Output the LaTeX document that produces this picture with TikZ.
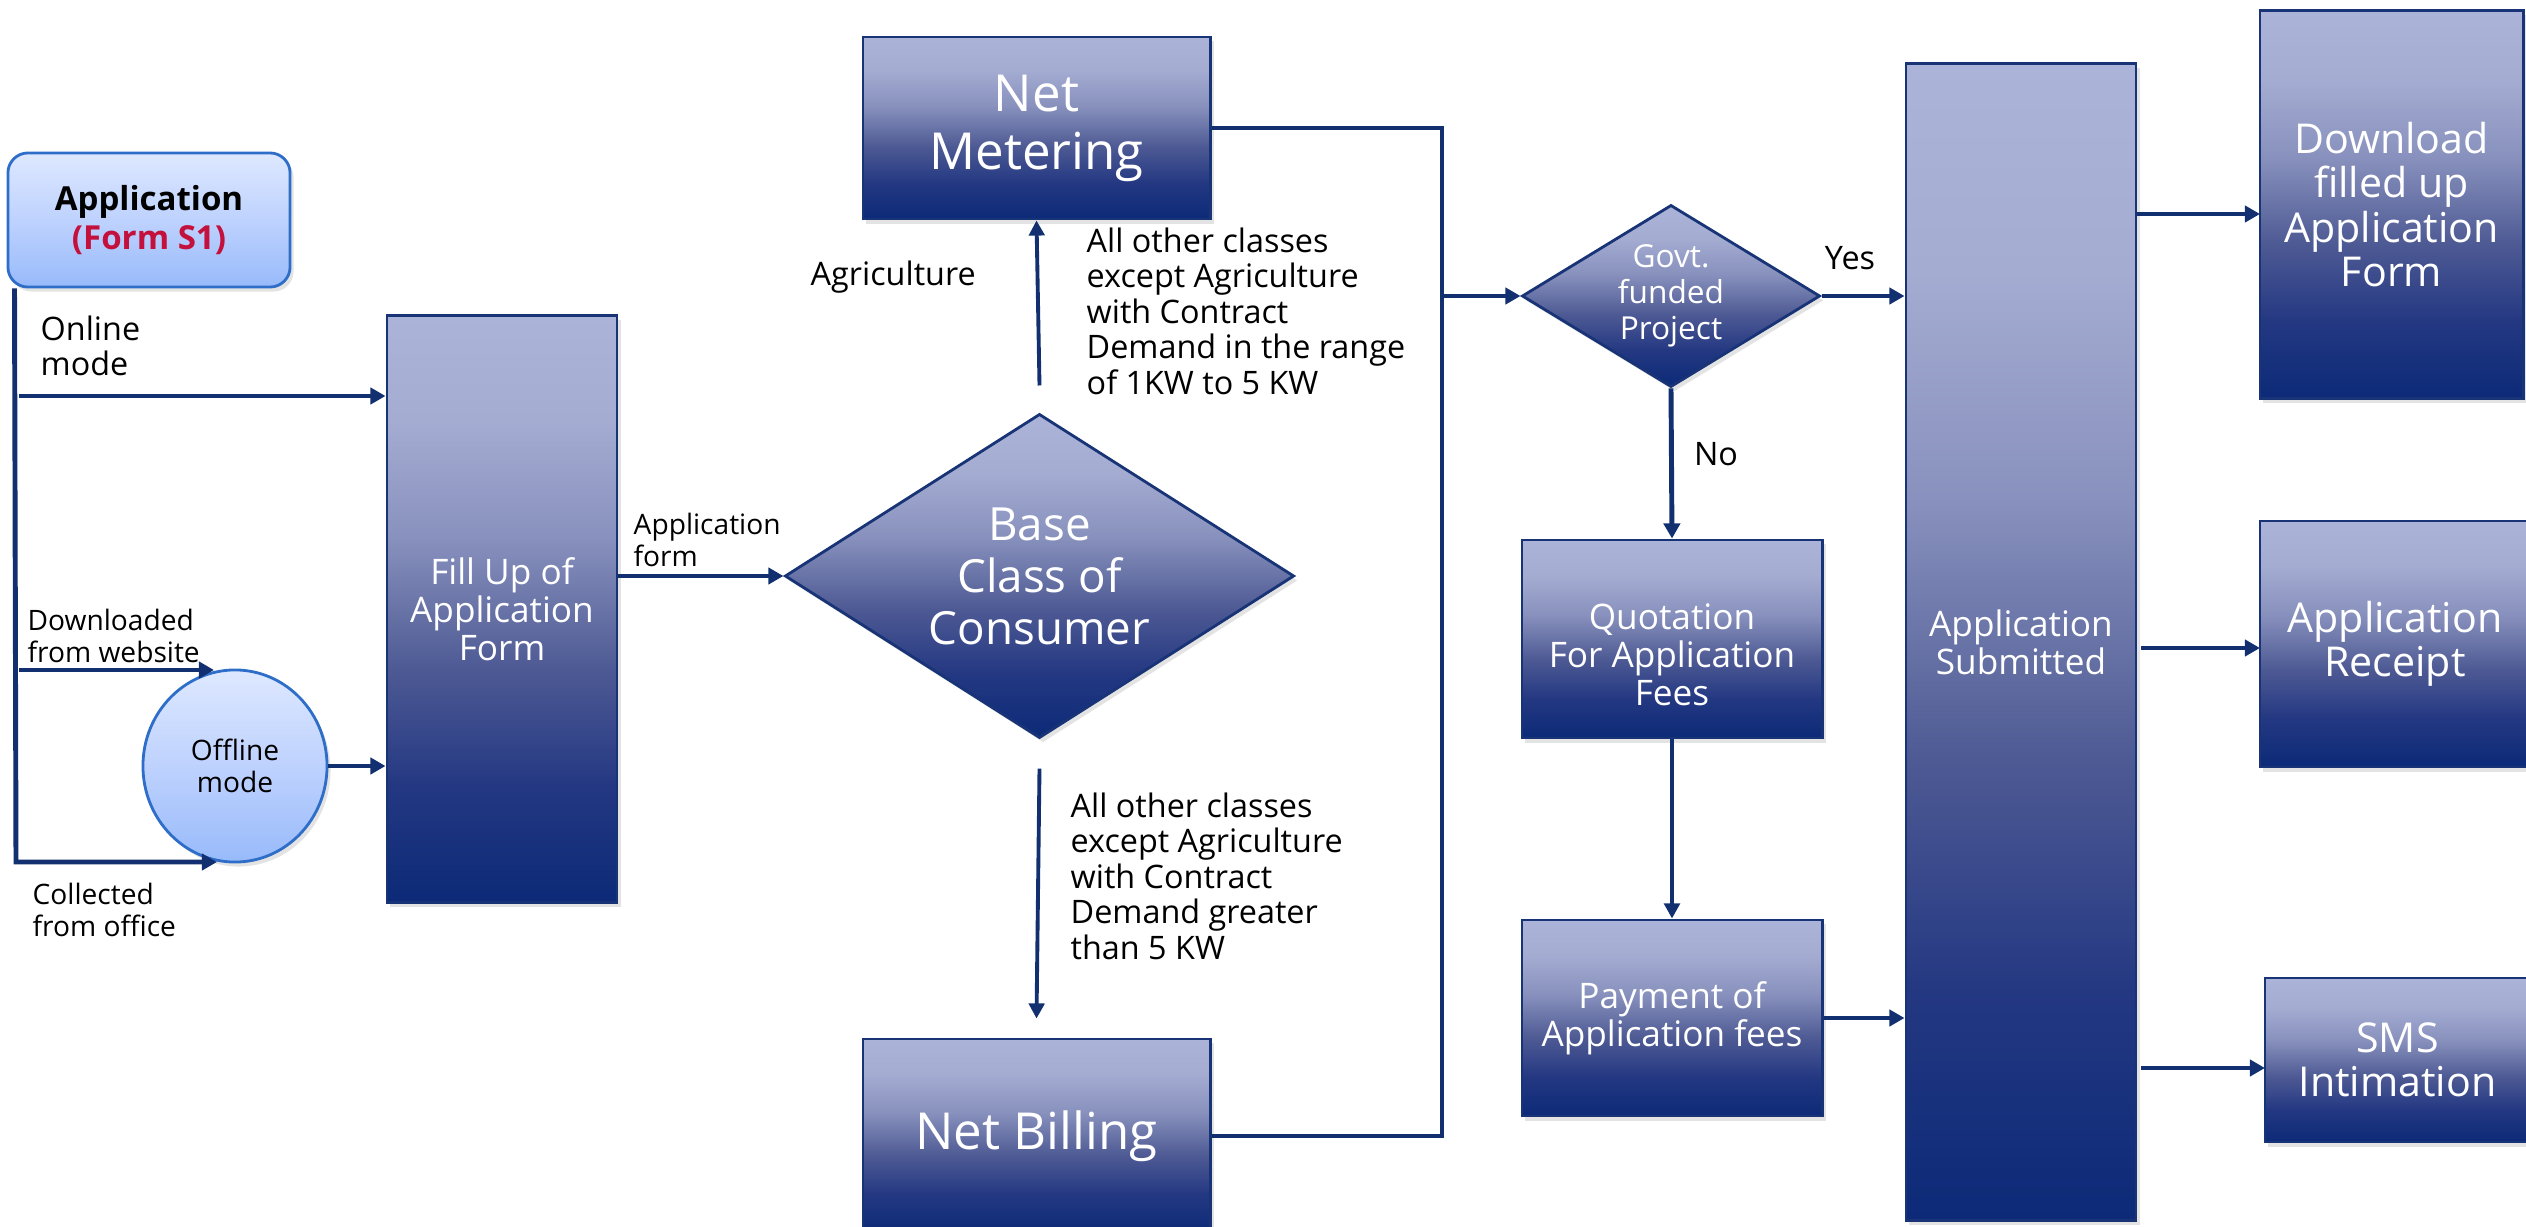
\documentclass[tikz,border=0pt]{standalone}
\usepackage{fontspec}
\setmainfont{Open Sans}
\usetikzlibrary{arrows.meta,shapes.geometric,shadows}
\definecolor{arrowc}{RGB}{18,48,112}
\definecolor{boxline}{RGB}{24,52,118}
\definecolor{appline}{RGB}{46,110,200}
\definecolor{formred}{RGB}{196,16,60}
\definecolor{nvA}{RGB}{12,42,120}
\definecolor{nvB}{RGB}{36,56,130}
\definecolor{nvC}{RGB}{78,90,148}
\definecolor{nvD}{RGB}{136,145,189}
\definecolor{nvE}{RGB}{164,172,210}
\definecolor{nvF}{RGB}{171,179,216}
\definecolor{lbA}{RGB}{152,186,250}
\definecolor{lbB}{RGB}{190,210,254}
\definecolor{lbC}{RGB}{222,232,255}
\pgfdeclareverticalshading{navyshade}{100bp}{color(0bp)=(nvA); color(25bp)=(nvA); color(35bp)=(nvB); color(45bp)=(nvC); color(56bp)=(nvD); color(66bp)=(nvE); color(75bp)=(nvF); color(100bp)=(nvF)}
\pgfdeclareverticalshading{lightshade}{100bp}{color(0bp)=(lbA); color(25bp)=(lbA); color(50bp)=(lbB); color(75bp)=(lbC); color(100bp)=(lbC)}
\begin{document}
\begin{tikzpicture}[x=0.01cm,y=-0.01cm,
  nbox/.style={rectangle, draw=boxline, line width=0.8pt, shade, shading=navyshade,
    text=white, align=center, inner sep=0pt,
    drop shadow={shadow xshift=0.035cm, shadow yshift=-0.045cm, opacity=0.22}},
  ndiam/.style={diamond, draw=boxline, line width=0.8pt, shade, shading=navyshade,
    text=white, align=center, inner sep=0pt,
    drop shadow={shadow xshift=0.035cm, shadow yshift=-0.045cm, opacity=0.22}},
  lbox/.style={draw=appline, line width=0.8pt, shade, shading=lightshade,
    text=black, align=center, inner sep=0pt,
    drop shadow={shadow xshift=0.035cm, shadow yshift=-0.045cm, opacity=0.22}},
  ftxt/.style={font=\fontsize{10}{10.8}\selectfont},
  fbig/.style={font=\fontsize{14.5}{16.5}\selectfont},
  fbase/.style={font=\fontsize{13}{14.8}\selectfont},
  fright/.style={font=\fontsize{11.7}{12.6}\selectfont},
  fgovt/.style={font=\fontsize{9}{10.3}\selectfont},
  flbl/.style={font=\fontsize{9.2}{10.1}\selectfont},
  fsmall/.style={font=\fontsize{8}{9.2}\selectfont},
  lbl/.style={text=black, align=left, inner sep=0pt},
  arr/.style={draw=arrowc, line width=1.4pt, -{Triangle[length=4.3pt,width=4.6pt]}},
  arrthin/.style={draw=arrowc, line width=1.1pt, -{Triangle[length=4.3pt,width=4.4pt]}},
  conn/.style={draw=arrowc, line width=1.4pt},
]
\useasboundingbox (0,0) rectangle (2526,1227);

% ---------- nodes ----------
\node[lbox, rectangle, rounded corners=0.2cm, minimum width=2.82cm, minimum height=1.34cm,
      font=\fontsize{9.4}{10.9}\selectfont\bfseries] (app) at (149,220)
      {Application\\\textcolor{formred}{(Form S1)}};
\node[nbox, ftxt, minimum width=2.30cm, minimum height=5.86cm] (fill) at (502,609)
      {Fill Up of\\Application\\Form};
\node[lbox, ellipse, fsmall, minimum width=1.84cm, minimum height=1.92cm] (off) at (235,766)
      {Offline\\mode};
\node[nbox, fbig, minimum width=3.47cm, minimum height=1.82cm] (netm) at (1036.5,128)
      {Net\\Metering};
\node[ndiam, fbase, aspect=1.57, minimum width=5.09cm, minimum height=3.24cm] (base) at (1039.5,576)
      {Base\\Class of\\Consumer};
\node[nbox, fbig, minimum width=3.47cm, minimum height=1.94cm] (nb) at (1036.5,1136)
      {Net Billing};
\node[ndiam, fgovt, aspect=1.64, minimum width=2.98cm, minimum height=1.82cm] (govt) at (1671,296)
      {Govt.\\funded\\Project};
\node[nbox, minimum width=3.00cm, minimum height=1.98cm] (quot) at (1672,639) {};
\node[ftxt, text=white, align=center, inner sep=0pt] (quott) at (1672,655)
      {Quotation\\For Application\\Fees};
\node[nbox, ftxt, minimum width=3.00cm, minimum height=1.96cm] (pay) at (1672,1018)
      {Payment of\\Application fees};
\node[nbox, ftxt, minimum width=2.30cm, minimum height=11.56cm] (sub) at (2021,642)
      {Application\\Submitted};
\node[nbox, fright, minimum width=2.63cm, minimum height=3.87cm] (dl) at (2391.5,204.5)
      {Download\\filled up\\Application\\Form};
\node[nbox, fright, minimum width=2.70cm, minimum height=2.46cm] (rec) at (2395,644)
      {Application\\Receipt};
\node[nbox, fright, minimum width=2.65cm, minimum height=1.64cm] (sms) at (2397.5,1060)
      {SMS\\Intimation};

% ---------- labels ----------
\node[lbl, flbl, anchor=west] (lonl) at (40,346) {Online\\mode};
\node[lbl, fsmall, anchor=west] (ldwl) at (27,636) {Downloaded\\from website};
\node[lbl, fsmall, anchor=west] (lcol) at (32,910) {Collected\\from office};
\node[lbl, fsmall, anchor=west] (lapf) at (633,540) {Application\\form};
\node[lbl, flbl, anchor=west] (lagr) at (810,277) {Agriculture};
\node[lbl, flbl, anchor=west] (lup) at (1086,311)
      {All other classes\\except Agriculture\\with Contract\\Demand in the range\\of 1KW to 5 KW};
\node[lbl, flbl, anchor=west] (ldn) at (1070,876)
      {All other classes\\except Agriculture\\with Contract\\Demand greater\\than 5 KW};
\node[lbl, flbl] (lyes) at (1850,258) {Yes};
\node[lbl, flbl] (lno) at (1716,454) {No};

% ---------- connectors ----------
\coordinate (tr) at ([xshift=0.08cm]app.south west);
\coordinate (trb) at (16,862);
\coordinate (colend) at (217,862);
\draw[arr] (tr) -- (trb) -- (colend);
\coordinate (onl) at (19,396);
\draw[arr] (onl) -- (onl -| fill.west);
\coordinate (dwl) at (19,670);
\coordinate (dwlend) at (214,670);
\draw[arr] (dwl) -- (dwlend);
\draw[arr] (off.east) -- (off.east -| fill.west);
\draw[arr] (fill.east |- base.west) -- (base.west);
\draw[arrthin] ([yshift=0.27cm]base.north) -- (netm.south);
\draw[arrthin] ([yshift=-0.29cm]base.south) -- ([yshift=0.19cm]nb.north);
\coordinate (jt) at (1442,128);
\coordinate (jb) at (1442,1136);
\draw[conn] (netm.east) -- (jt) -- (jb) -- (nb.east);
\draw[arr] (jt |- govt.west) -- (govt.west);
\draw[arr] (govt.east) -- (govt.east -| sub.west);
\draw[arr] (govt.south) -- (quot.north);
\draw[arrthin] (quot.south) -- (pay.north);
\draw[arr] (pay.east) -- (pay.east -| sub.west);
\coordinate (dlin) at (2260,214);
\draw[arr] (sub.east |- dlin) -- (dlin);
\coordinate (recin) at (2260,648);
\coordinate (recout) at (2141,648);
\draw[arr] (recout) -- (recin);
\coordinate (smsin) at (2265,1068);
\coordinate (smsout) at (2141,1068);
\draw[arr] (smsout) -- (smsin);
\end{tikzpicture}
\end{document}
